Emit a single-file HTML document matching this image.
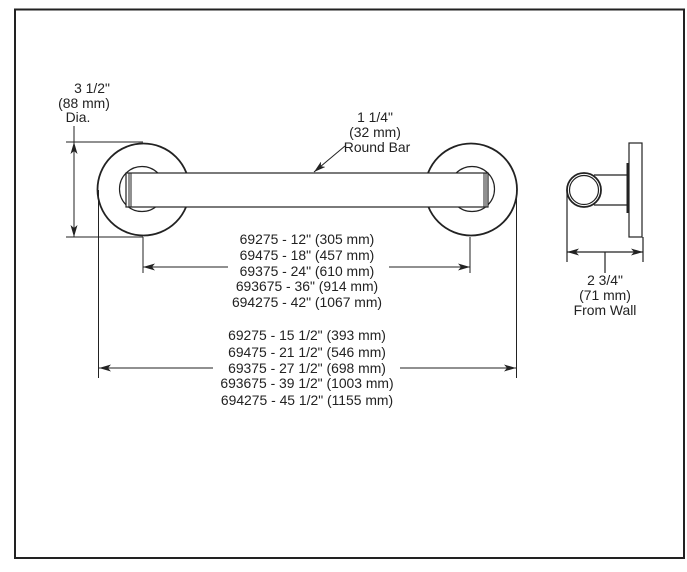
<!DOCTYPE html>
<html><head><meta charset="utf-8"><style>
html,body{margin:0;padding:0;background:#fff;}
svg{display:block;}
text{font-family:"Liberation Sans",Arial,sans-serif;font-size:13.9px;fill:#222;text-anchor:middle;}
</style></head><body>
<svg width="687" height="572" viewBox="0 0 687 572" xmlns="http://www.w3.org/2000/svg">
<defs>
<marker id="a" viewBox="0 0 12 7" refX="12" refY="3.5" markerWidth="12" markerHeight="7" orient="auto-start-reverse" markerUnits="userSpaceOnUse"><path d="M0,0 L12,3.5 L0,7 L3,3.5 Z" fill="#222"/></marker>
</defs>
<rect x="15" y="9.5" width="669" height="548.5" fill="none" stroke="#222" stroke-width="2"/>
<g fill="none" stroke="#222" stroke-width="1.2">
<circle cx="143.5" cy="189.5" r="46" stroke-width="1.8"/>
<circle cx="142" cy="189" r="22.5"/>
<circle cx="471" cy="189.5" r="46" stroke-width="1.8"/>
<circle cx="472" cy="189" r="22.5"/>
</g>
<rect x="126" y="173" width="362" height="34" fill="#fff" stroke="#222" stroke-width="1.2"/>
<g stroke="#222" stroke-width="1">
<line x1="129" y1="173" x2="129" y2="207"/><line x1="131" y1="173" x2="131" y2="207"/>
<line x1="484" y1="173" x2="484" y2="207"/><line x1="486" y1="173" x2="486" y2="207"/>
<line x1="66" y1="142" x2="143" y2="142"/>
<line x1="66" y1="237" x2="143" y2="237"/>
<line x1="74" y1="126" x2="74" y2="142"/>
<line x1="74" y1="142" x2="74" y2="237" marker-start="url(#a)" marker-end="url(#a)"/>
<line x1="345" y1="146" x2="314" y2="172" marker-end="url(#a)"/>
<line x1="143" y1="237" x2="143" y2="273"/>
<line x1="470" y1="237" x2="470" y2="273"/>
<line x1="143" y1="267" x2="228" y2="267" marker-start="url(#a)"/>
<line x1="389" y1="267" x2="470" y2="267" marker-end="url(#a)"/>
<line x1="98.5" y1="190" x2="98.5" y2="378"/>
<line x1="516.5" y1="190" x2="516.5" y2="378"/>
<line x1="99" y1="368" x2="213" y2="368" marker-start="url(#a)"/>
<line x1="400" y1="368" x2="516" y2="368" marker-end="url(#a)"/>
</g>
<g fill="none" stroke="#222" stroke-width="1.2">
<rect x="629" y="143" width="13" height="94" fill="#fff"/>
<line x1="594" y1="175" x2="628" y2="175"/>
<line x1="594" y1="205" x2="628" y2="205"/>
<circle cx="584" cy="190" r="17" stroke-width="1.8"/>
<circle cx="584" cy="190" r="14.5"/>
<line x1="567" y1="190" x2="567" y2="262"/>
<line x1="643" y1="237" x2="643" y2="262"/>
<line x1="567" y1="252" x2="643" y2="252" marker-start="url(#a)" marker-end="url(#a)"/>
<line x1="605" y1="252" x2="605" y2="273"/>
</g>
<rect x="626.5" y="163" width="2.5" height="50" fill="#222"/>
<text x="605" y="285">2 3/4"</text>
<text x="605" y="300">(71 mm)</text>
<text x="605" y="315">From Wall</text>
<text x="92" y="93">3 1/2"</text>
<text x="84" y="108">(88 mm)</text>
<text x="78" y="122">Dia.</text>
<text x="375" y="122">1 1/4"</text>
<text x="375" y="137">(32 mm)</text>
<text x="377" y="152">Round Bar</text>
<text x="307" y="244">69275 - 12" (305 mm)</text>
<text x="307" y="260">69475 - 18" (457 mm)</text>
<text x="307" y="276">69375 - 24" (610 mm)</text>
<text x="307" y="291">693675 - 36" (914 mm)</text>
<text x="307" y="307">694275 - 42" (1067 mm)</text>
<text x="307" y="340">69275 - 15 1/2" (393 mm)</text>
<text x="307" y="357">69475 - 21 1/2" (546 mm)</text>
<text x="307" y="373">69375 - 27 1/2" (698 mm)</text>
<text x="307" y="388">693675 - 39 1/2" (1003 mm)</text>
<text x="307" y="405">694275 - 45 1/2" (1155 mm)</text>
</svg>
</body></html>
